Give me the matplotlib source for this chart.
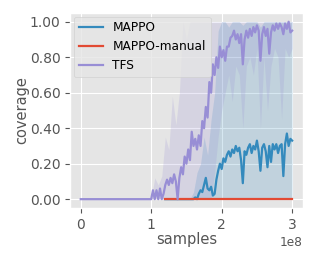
import numpy as np
import matplotlib
matplotlib.use("Agg")
import matplotlib.pyplot as plt

# samples are on a 2.5e6 grid (mean curves) and a 5e6 grid (min/max bands)
tfs_mean = [
    0, 0, 0, 0, 0, 0, 0, 0, 0, 0,
    0, 0, 0, 0, 0, 0, 0, 0, 0, 0,
    0, 0, 0, 0, 0, 0, 0, 0, 0, 0,
    0, 0, 0, 0, 0, 0, 0, 0, 0, 0,
    0.0, 0.05, 0.0, 0.05, 0.0, 0.06, 0.0, 0.03,
    0.08, 0.11, 0.08, 0.12, 0.09, 0.14, 0.10, 0.0, 0.12, 0.18,
    0.14, 0.24, 0.20, 0.28, 0.22, 0.38, 0.30, 0.34, 0.28, 0.36,
    0.30, 0.44, 0.40, 0.52, 0.46, 0.66, 0.60, 0.76, 0.70, 0.80,
    0.74, 0.86, 0.80, 0.84, 0.78, 0.86, 0.86, 0.91, 0.92, 0.95,
    0.90, 0.93, 0.88, 0.93, 0.76, 0.90, 0.95, 0.91, 0.96, 0.92,
    0.97, 0.94, 0.98, 0.95, 0.78, 0.93, 0.97, 0.92, 0.96, 0.82,
    0.94, 0.98, 0.95, 0.99, 0.96, 0.99, 0.97, 0.93, 0.99, 0.96,
    1.00, 0.94, 0.95,
]
mappo_mean = [
    0, 0, 0, 0, 0, 0, 0, 0, 0, 0, 0, 0, 0, 0, 0, 0,
    0.0, 0.01, 0.0, 0.03, 0.05, 0.04, 0.08, 0.12, 0.06, 0.05,
    0.07, 0.02, 0.03, 0.11, 0.16, 0.20, 0.17, 0.23, 0.21, 0.25,
    0.27, 0.24, 0.28, 0.26, 0.30, 0.27, 0.29, 0.22, 0.09, 0.27,
    0.25, 0.29, 0.31, 0.26, 0.30, 0.28, 0.33, 0.27, 0.16, 0.29,
    0.31, 0.27, 0.18, 0.30, 0.21, 0.31, 0.28, 0.31, 0.26, 0.30,
    0.31, 0.13, 0.31, 0.37, 0.30, 0.34, 0.33,
]
manual_mean = [0, 0, 0, 0, 0, 0, 0, 0, 0, 0, 0, 0, 0, 0, 0, 0, 0, 0, 0, 0, 0, 0, 0, 0, 0, 0, 0, 0, 0, 0, 0, 0, 0, 0, 0, 0, 0]

tfs_high = [
    0.0, 0.12, 0.08, 0.13, 0.35, 0.28, 0.58, 0.42, 0.60, 1.0,
    0.90, 1.0, 1.0, 1.0, 1.0, 1.0, 1.0, 1.0, 1.0, 1.0,
    1.0, 1.0, 1.0, 1.0, 1.0, 1.0, 1.0, 1.0, 1.0, 1.0,
    1.0, 1.0, 1.0, 1.0, 1.0, 1.0, 1.0, 1.0, 1.0, 1.0, 1.0,
]
tfs_low = [
    0, 0, 0, 0, 0, 0, 0, 0, 0, 0,
    0, 0, 0, 0, 0, 0, 0, 0, 0.15, 0.35,
    0.50, 0.60, 0.70, 0.55, 0.75, 0.70, 0.40, 0.75, 0.80, 0.70,
    0.85, 0.40, 0.80, 0.50, 0.75, 0.85, 0.80, 0.45, 0.85, 0.80, 0.85,
]
mappo_high = [
    0, 0, 0, 0, 0, 0, 0, 0,
    0.04, 0.15, 0.20, 0.35, 0.25, 0.45, 0.60, 0.95,
    1.0, 1.0, 0.97, 1.0, 1.0, 1.0, 0.98, 1.0, 1.0, 1.0,
    1.0, 0.97, 1.0, 1.0, 1.0, 1.0, 1.0, 1.0, 1.0, 1.0, 1.0,
]
mappo_low = [0, 0, 0, 0, 0, 0, 0, 0, 0, 0, 0, 0, 0, 0, 0, 0, 0, 0, 0, 0, 0, 0, 0, 0, 0, 0, 0, 0, 0, 0, 0, 0, 0, 0, 0, 0, 0]

x_tfs = np.arange(len(tfs_mean)) * 2.5e6
x_mappo = 1.2e8 + np.arange(len(mappo_mean)) * 2.5e6
x_manual = 1.2e8 + np.arange(len(manual_mean)) * 5e6
x_tfs_band = 1.0e8 + np.arange(len(tfs_high)) * 5e6
x_mappo_band = 1.2e8 + np.arange(len(mappo_high)) * 5e6

plt.style.use('ggplot')
fig = plt.figure(figsize=(3.16, 2.63), dpi=100)
ax = fig.add_axes([0.222, 0.209, 0.736, 0.742])

c_mappo, c_manual, c_tfs = '#348ABD', '#E24A33', '#988ED5'

ax.plot(x_mappo, mappo_mean, color=c_mappo, lw=1.6, label='MAPPO')
ax.fill_between(x_mappo_band, mappo_low, mappo_high, color=c_mappo, alpha=0.2, lw=0)
ax.plot(x_manual, manual_mean, color=c_manual, lw=1.6, label='MAPPO-manual')
ax.plot(x_tfs, tfs_mean, color=c_tfs, lw=1.6, label='TFS')
ax.fill_between(x_tfs_band, tfs_low, tfs_high, color=c_tfs, alpha=0.2, lw=0)

ax.set_ylim(-0.05, 1.05)
ax.set_yticks([0, 0.2, 0.4, 0.6, 0.8, 1.0])
ax.set_yticklabels(['0.00', '0.20', '0.40', '0.60', '0.80', '1.00'])
ax.set_xticks([0, 1e8, 2e8, 3e8])
ax.tick_params(labelsize=10)
ax.xaxis.get_offset_text().set_fontsize(8.7)
ax.set_xlabel('samples', fontsize=10.5, labelpad=0)
ax.set_ylabel('coverage', fontsize=10.5, labelpad=0)
ax.legend(loc='upper left', fontsize=8.7, borderaxespad=0.3)

fig.savefig('out.png', dpi=100)
